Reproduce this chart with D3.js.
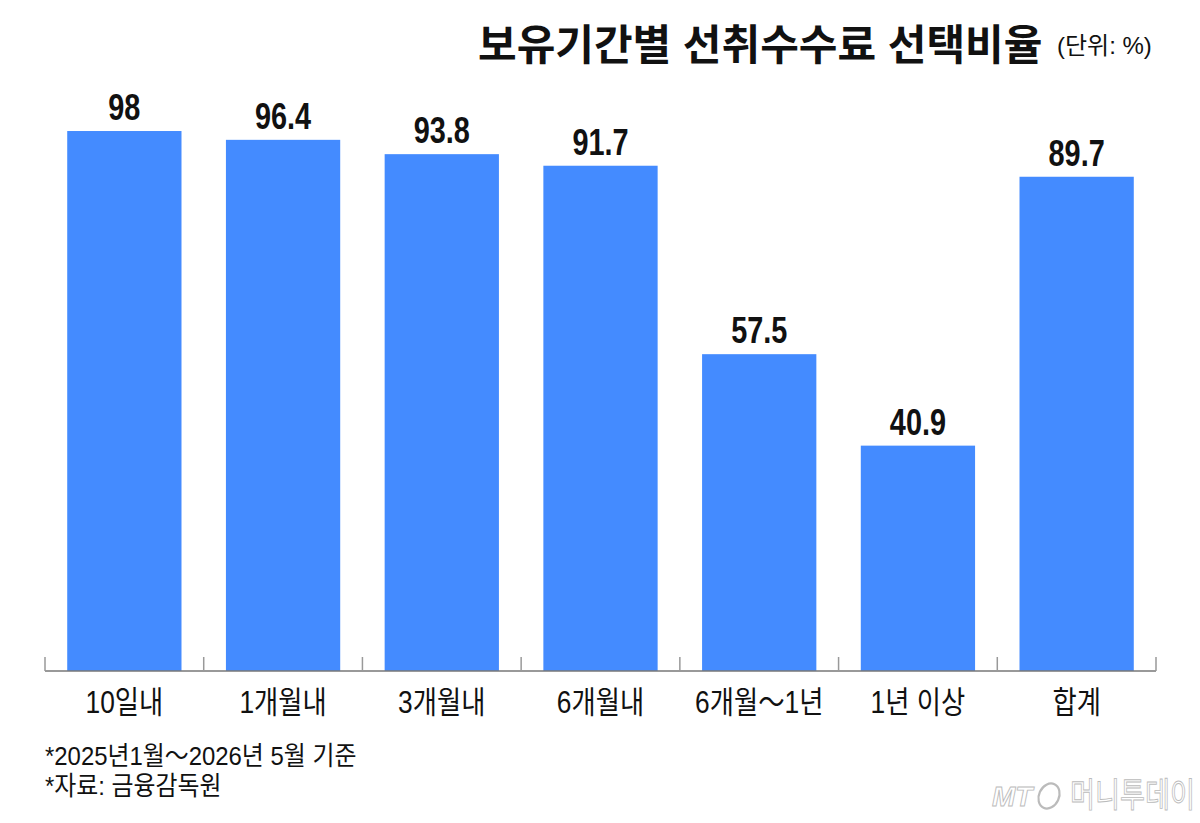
<!DOCTYPE html>
<html>
<head>
<meta charset="utf-8">
<script src="https://cdn.jsdelivr.net/npm/d3@7"></script>
<style>
    body { margin: 0; background: #fff; }
    text { font-family: "Liberation Sans", "Noto Sans CJK KR", sans-serif; }
</style>
</head>
<body>
<svg width="1200" height="823"></svg>
<script>
"use strict"

var categories = ["10일내", "1개월내", "3개월내", "6개월내", "6개월～1년", "1년 이상", "합계"];
var values = [98, 96.4, 93.8, 91.7, 57.5, 40.9, 89.7];
var title = "보유기간별 선취수수료 선택비율";
var unit = "(단위: %)";
var notes = ["*2025년1월～2026년 5월 기준", "*자료: 금융감독원"];

var svg = d3.select("svg");

var x = d3.scaleBand()
    .domain(categories)
    .range([45, 1156])
    .paddingInner(0.28)
    .paddingOuter(0.14);

var y = d3.scaleLinear()
    .domain([0, 100])
    .range([671, 120]);

/* text squeezed horizontally, the original uses a narrow font */
var add_text = function(g, str, tx, ty, size, sx, anchor, weight) {
    return g.append("text")
        .attr("transform", "translate(" + tx + "," + ty + ") scale(" + sx + ",1)")
        .attr("text-anchor", anchor || "start")
        .attr("font-size", size)
        .attr("font-weight", weight || "normal")
        .attr("fill", "#111")
        .text(str);
}

// title
add_text(svg, title, 478, 60, 42, 1.0, "start", "bold");
add_text(svg, unit, 1057, 54, 24, 1.0, "start");

// bars
var bars = svg.append("g");
bars.selectAll("rect")
    .data(values)
    .enter().append("rect")
    .attr("x", function(d, i) { return x(categories[i]); })
    .attr("y", function(d) { return y(d); })
    .attr("width", x.bandwidth())
    .attr("height", function(d) { return y(0) - y(d); })
    .attr("fill", "#448bff");

// value labels
var labels = svg.append("g");
values.forEach(function(d, i) {
    add_text(labels, d, x(categories[i]) + x.bandwidth() / 2, y(d) - 11, 37, 0.78, "middle", "bold");
});

// axis line and ticks at the band edges
var axis = svg.append("g");
axis.append("line")
    .attr("x1", x.range()[0]).attr("x2", x.range()[1])
    .attr("y1", y(0)).attr("y2", y(0))
    .attr("stroke", "#777").attr("stroke-width", 1.5);
d3.range(categories.length + 1).forEach(function(i) {
    var tx = x.range()[0] + i * x.step();
    axis.append("line")
        .attr("x1", tx).attr("x2", tx)
        .attr("y1", y(0) - 14).attr("y2", y(0))
        .attr("stroke", "#999").attr("stroke-width", 1.5);
});

// category labels
categories.forEach(function(c) {
    add_text(axis, c, x(c) + x.bandwidth() / 2, 713, 31, 0.85, "middle");
});

// footnotes
notes.forEach(function(n, i) {
    add_text(svg, n, 45, 765 + i * 30, 26, 0.92, "start");
});

// watermark
var mark = svg.append("g")
    .attr("fill", "#fff")
    .attr("stroke", "#bbb")
    .attr("stroke-width", 0.9);
add_text(mark, "MT", 992, 806, 28, 1, "start", "bold")
    .attr("font-style", "italic").attr("fill", "#fff").attr("stroke", "#bbb");
mark.append("ellipse")
    .attr("cx", 1049).attr("cy", 796).attr("rx", 10).attr("ry", 13)
    .attr("transform", "rotate(25,1049,796)")
    .attr("stroke-width", 2.2);
add_text(mark, "머니투데이", 1070, 807, 34, 0.8, "start")
    .attr("fill", "#fff").attr("stroke", "#bbb");
</script>
</body>
</html>
